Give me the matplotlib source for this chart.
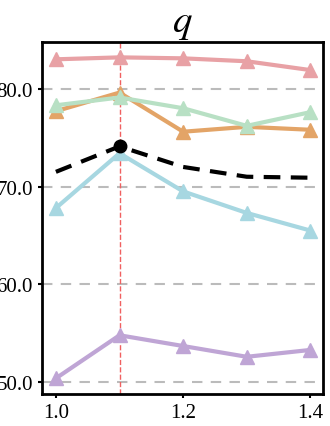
import matplotlib
matplotlib.use('Agg')
import matplotlib.pyplot as plt
from matplotlib.ticker import FormatStrFormatter

plt.rcParams['font.family'] = ['Liberation Serif', 'DejaVu Serif']
plt.rcParams['mathtext.fontset'] = 'stix'

x = [1.0, 1.1, 1.2, 1.3, 1.4]
red = [83.0, 83.2, 83.1, 82.8, 81.9]
orange = [77.7, 79.6, 75.6, 76.1, 75.8]
green = [78.3, 79.1, 78.0, 76.2, 77.6]
cyan = [67.8, 73.4, 69.5, 67.3, 65.5]
purple = [50.4, 54.8, 53.7, 52.6, 53.3]
avg = [71.5, 74.1, 72.0, 71.0, 70.9]
best_x = 1.1

fig = plt.figure(figsize=(3.3, 4.27), dpi=100)
ax = fig.add_axes([0.127, 0.075, 0.852, 0.825])

series = [(red, '#e8a1a5'), (orange, '#e3a467'), (green, '#b8e0c4'),
          (cyan, '#a7d7e1'), (purple, '#bfa5d5')]
for ys, c in series:
    ax.plot(x, ys, color=c, lw=3, marker='^', ms=10, zorder=3)

ax.plot(x, avg, color='black', lw=3, ls=(0, (4, 2.5)), zorder=4)
ax.plot([best_x], [avg[x.index(best_x)]], 'o', color='black', ms=9, zorder=5)
ax.axvline(best_x, color='#f06060', lw=1, ls='--', zorder=2)

ax.set_xlim(0.978, 1.42)
ax.set_ylim(48.8, 84.8)
ax.set_xticks([1.0, 1.2, 1.4])
ax.set_yticks([50, 60, 70, 80])
ax.yaxis.set_major_formatter(FormatStrFormatter('%.1f'))
ax.xaxis.set_major_formatter(FormatStrFormatter('%.1f'))
ax.grid(axis='y', ls='--', color='#bbbbbb', lw=1.5, dashes=(5, 4))
ax.tick_params(labelsize=15, length=3, width=1.5)
for s in ax.spines.values():
    s.set_linewidth(2)
ax.set_title('$q$', fontsize=28, pad=8)

fig.savefig('out.png', dpi=100)
